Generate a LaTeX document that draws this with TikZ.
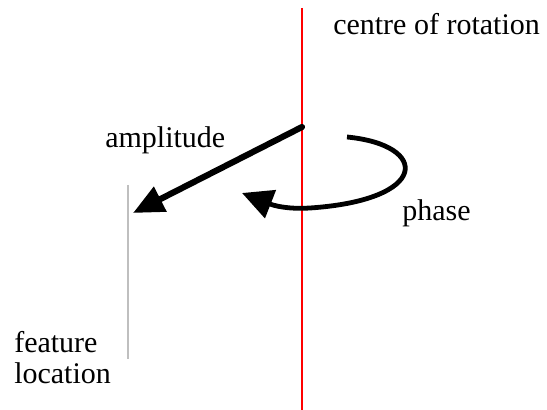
\documentclass[tikz,border=0pt]{standalone}
\usepackage{fontspec}
\setmainfont{LiberationSerif}[Extension=.ttf,UprightFont=*-Regular]
\usepackage{tikz}
\usetikzlibrary{arrows.meta,positioning}

\begin{document}
\begin{tikzpicture}[x=0.75pt,y=-0.75pt,
  every node/.style={font=\fontsize{22.5}{23.3}\selectfont,inner sep=0pt},
  lbl/.style={anchor=base west},
  axis/.style={red,line width=1.8pt},
  feat/.style={black!25,line width=1.6pt},
  amp/.style={line width=4.6pt,-{Triangle[length=23pt,width=20pt]}},
  rot/.style={line width=3.6pt,-{Triangle[length=23pt,width=22pt]}}]
 \useasboundingbox (0,0) rectangle (547,410);
 % centre of rotation axis and feature location
 \coordinate (rtop) at (302,8);   \coordinate (rbot) at (302,410);
 \coordinate (gtop) at (128,185); \coordinate (gbot) at (128,359);
 \draw[axis] (rtop) -- (rbot);
 \draw[feat] (gtop) -- (gbot);
 % amplitude vector
 \coordinate (pivot) at (302,127); \coordinate (amptip) at (133,213);
 \draw[amp,line cap=round] (pivot) -- (amptip);
 % phase
 \coordinate (phstart) at (347,137); \coordinate (phmid) at (310,208);
 \coordinate (phend) at (242,193);
 \draw[rot] (phstart) .. controls (430,145) and (430,200) .. (phmid)
   .. controls (280,210) and (265,202) .. (phend);
 % labels
 \node[lbl] (centre) at (333,35) {centre of rotation};
 \node[lbl] (ampl) at (105,148) {amplitude};
 \node[lbl] (phase) at (402,220) {phase};
 \node[lbl] (floc1) at (14,352) {feature};
 \node[lbl] (floc2) at (14,383) {location};
\end{tikzpicture}
\end{document}
